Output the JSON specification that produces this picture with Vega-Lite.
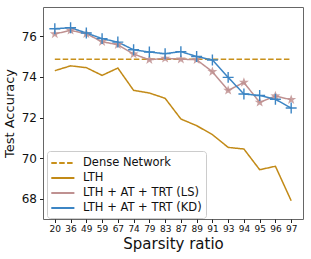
{
  "$schema": "https://vega.github.io/schema/vega-lite/v6.json",
  "width": 260,
  "height": 212,
  "autosize": {"type": "none"},
  "padding": {"left": 43, "top": 7, "right": 8, "bottom": 40},
  "config": {
    "font": "DejaVu Sans",
    "view": {"stroke": "#666", "strokeWidth": 1},
    "axis": {"grid": false, "domain": false, "tickColor": "#222", "labelColor": "#111", "titleColor": "#111", "titleFontWeight": "normal"}
  },
  "data": {
    "values": [
      {"s": "20", "series": "Dense Network", "acc": 74.88},
      {"s": "36", "series": "Dense Network", "acc": 74.88},
      {"s": "49", "series": "Dense Network", "acc": 74.88},
      {"s": "59", "series": "Dense Network", "acc": 74.88},
      {"s": "67", "series": "Dense Network", "acc": 74.88},
      {"s": "74", "series": "Dense Network", "acc": 74.88},
      {"s": "79", "series": "Dense Network", "acc": 74.88},
      {"s": "83", "series": "Dense Network", "acc": 74.88},
      {"s": "87", "series": "Dense Network", "acc": 74.88},
      {"s": "89", "series": "Dense Network", "acc": 74.88},
      {"s": "91", "series": "Dense Network", "acc": 74.88},
      {"s": "93", "series": "Dense Network", "acc": 74.88},
      {"s": "94", "series": "Dense Network", "acc": 74.88},
      {"s": "95", "series": "Dense Network", "acc": 74.88},
      {"s": "96", "series": "Dense Network", "acc": 74.88},
      {"s": "97", "series": "Dense Network", "acc": 74.88},
      {"s": "20", "series": "LTH", "acc": 74.31},
      {"s": "36", "series": "LTH", "acc": 74.55},
      {"s": "49", "series": "LTH", "acc": 74.46},
      {"s": "59", "series": "LTH", "acc": 74.08},
      {"s": "67", "series": "LTH", "acc": 74.44},
      {"s": "74", "series": "LTH", "acc": 73.34},
      {"s": "79", "series": "LTH", "acc": 73.21},
      {"s": "83", "series": "LTH", "acc": 72.95},
      {"s": "87", "series": "LTH", "acc": 71.93},
      {"s": "89", "series": "LTH", "acc": 71.6},
      {"s": "91", "series": "LTH", "acc": 71.16},
      {"s": "93", "series": "LTH", "acc": 70.53},
      {"s": "94", "series": "LTH", "acc": 70.45},
      {"s": "95", "series": "LTH", "acc": 69.43},
      {"s": "96", "series": "LTH", "acc": 69.6},
      {"s": "97", "series": "LTH", "acc": 67.9},
      {"s": "20", "series": "LTH + AT + TRT (LS)", "acc": 76.12},
      {"s": "36", "series": "LTH + AT + TRT (LS)", "acc": 76.3},
      {"s": "49", "series": "LTH + AT + TRT (LS)", "acc": 76.13},
      {"s": "59", "series": "LTH + AT + TRT (LS)", "acc": 75.74},
      {"s": "67", "series": "LTH + AT + TRT (LS)", "acc": 75.59},
      {"s": "74", "series": "LTH + AT + TRT (LS)", "acc": 75.13},
      {"s": "79", "series": "LTH + AT + TRT (LS)", "acc": 74.85},
      {"s": "83", "series": "LTH + AT + TRT (LS)", "acc": 74.92},
      {"s": "87", "series": "LTH + AT + TRT (LS)", "acc": 74.88},
      {"s": "89", "series": "LTH + AT + TRT (LS)", "acc": 74.85},
      {"s": "91", "series": "LTH + AT + TRT (LS)", "acc": 74.26},
      {"s": "93", "series": "LTH + AT + TRT (LS)", "acc": 73.34},
      {"s": "94", "series": "LTH + AT + TRT (LS)", "acc": 73.73},
      {"s": "95", "series": "LTH + AT + TRT (LS)", "acc": 72.75},
      {"s": "96", "series": "LTH + AT + TRT (LS)", "acc": 73.06},
      {"s": "97", "series": "LTH + AT + TRT (LS)", "acc": 72.88},
      {"s": "20", "series": "LTH + AT + TRT (KD)", "acc": 76.38},
      {"s": "36", "series": "LTH + AT + TRT (KD)", "acc": 76.43},
      {"s": "49", "series": "LTH + AT + TRT (KD)", "acc": 76.17},
      {"s": "59", "series": "LTH + AT + TRT (KD)", "acc": 75.89},
      {"s": "67", "series": "LTH + AT + TRT (KD)", "acc": 75.72},
      {"s": "74", "series": "LTH + AT + TRT (KD)", "acc": 75.34},
      {"s": "79", "series": "LTH + AT + TRT (KD)", "acc": 75.23},
      {"s": "83", "series": "LTH + AT + TRT (KD)", "acc": 75.15},
      {"s": "87", "series": "LTH + AT + TRT (KD)", "acc": 75.25},
      {"s": "89", "series": "LTH + AT + TRT (KD)", "acc": 75.01},
      {"s": "91", "series": "LTH + AT + TRT (KD)", "acc": 74.84},
      {"s": "93", "series": "LTH + AT + TRT (KD)", "acc": 73.98},
      {"s": "94", "series": "LTH + AT + TRT (KD)", "acc": 73.16},
      {"s": "95", "series": "LTH + AT + TRT (KD)", "acc": 73.09},
      {"s": "96", "series": "LTH + AT + TRT (KD)", "acc": 72.9},
      {"s": "97", "series": "LTH + AT + TRT (KD)", "acc": 72.47}
    ]
  },
  "encoding": {
    "x": {
      "field": "s", "type": "ordinal",
      "scale": {"type": "point", "padding": 0.75, "domain": ["20","36","49","59","67","74","79","83","87","89","91","93","94","95","96","97"]},
      "axis": {"title": "Sparsity ratio", "titleFontSize": 15, "titlePadding": 3, "labelFontSize": 9, "labelAngle": 0, "tickSize": 3.5, "labelPadding": 2}
    },
    "y": {
      "field": "acc", "type": "quantitative",
      "scale": {"domain": [67.0, 77.45], "nice": false, "zero": false},
      "axis": {"title": "Test Accuracy", "titleFontSize": 13, "titlePadding": 5, "labelFontSize": 12, "values": [68, 70, 72, 74, 76], "tickSize": 3.5, "labelPadding": 3}
    }
  },
  "layer": [
    {
      "mark": {"type": "line", "strokeWidth": 1.5},
      "encoding": {
        "color": {
          "field": "series", "type": "nominal",
          "scale": {"domain": ["Dense Network", "LTH", "LTH + AT + TRT (LS)", "LTH + AT + TRT (KD)"], "range": ["#c8901a", "#c28a17", "#bf9191", "#3c85c4"]},
          "legend": {"title": null, "orient": "none", "legendX": 4, "legendY": 144, "symbolType": "M-1.1,0L2.2,0", "symbolSize": 196, "symbolStrokeWidth": 2, "labelFontSize": 11.5, "labelColor": "#111", "rowPadding": 1, "padding": 4, "strokeColor": "#ccc", "cornerRadius": 3, "fillColor": "white", "labelOffset": 16}
        },
        "strokeDash": {
          "field": "series", "type": "nominal",
          "scale": {"domain": ["Dense Network", "LTH", "LTH + AT + TRT (LS)", "LTH + AT + TRT (KD)"], "range": [[5.5, 2.4], [1, 0], [1, 0], [1, 0]]},
          "legend": null
        }
      }
    },
    {
      "transform": [{"filter": "datum.series === 'LTH + AT + TRT (LS)'"}],
      "mark": {"type": "point", "filled": true, "opacity": 0.85, "size": 110, "color": "#bf9191", "shape": "M0,-1L0.235,-0.324L0.951,-0.309L0.380,0.124L0.588,0.809L0,0.4L-0.588,0.809L-0.380,0.124L-0.951,-0.309L-0.235,-0.324Z"}
    },
    {
      "transform": [{"filter": "datum.series === 'LTH + AT + TRT (KD)'"}],
      "mark": {"type": "point", "filled": false, "size": 120, "strokeWidth": 1.4, "opacity": 1, "color": "#3c85c4", "shape": "M-1,0L1,0M0,-1L0,1"}
    }
  ]
}
